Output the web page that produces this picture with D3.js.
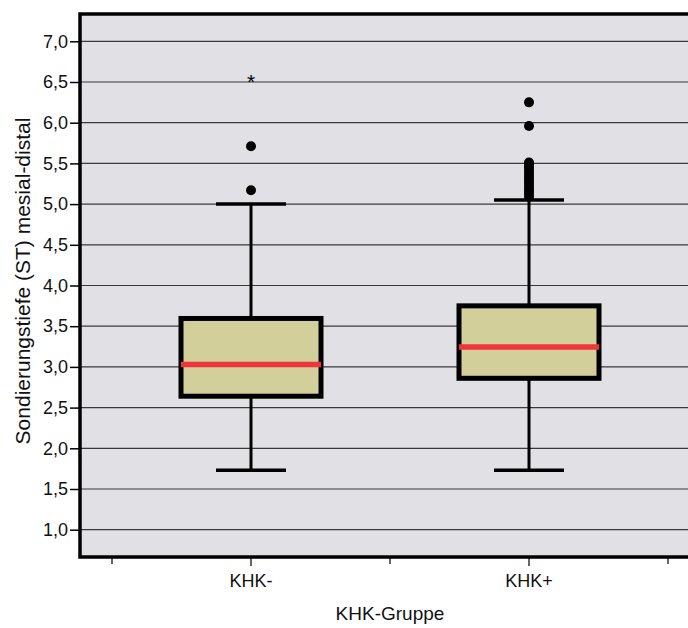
<!DOCTYPE html>
<html>
<head>
<meta charset="utf-8">
<script src="https://cdn.jsdelivr.net/npm/d3@7/dist/d3.min.js"></script>
<style>
  html, body { margin: 0; padding: 0; background: #fff; }
  svg { display: block; font-family: "Liberation Sans", Arial, sans-serif; }
</style>
</head>
<body>
<svg id="chart" width="688" height="628"></svg>
<script>
// Groups and five-number summaries (probing depth, mm)
const groups = ["KHK-", "KHK+"];
const q1 = [2.64, 2.86];
const medians = [3.03, 3.245];
const q3 = [3.595, 3.75];
const whiskerLow = [1.73, 1.73];
const whiskerHigh = [5.0, 5.05];

// Outliers (circles) and extreme values (asterisks) per group
const outliersMinus = [5.17, 5.71];
const outliersPlus = [5.09, 5.13, 5.17, 5.21, 5.25, 5.29, 5.33, 5.37, 5.41, 5.45, 5.48, 5.51, 5.96, 6.25];
const extremesMinus = [6.54];
const extremesPlus = [];

const yTicks = [1.0, 1.5, 2.0, 2.5, 3.0, 3.5, 4.0, 4.5, 5.0, 5.5, 6.0, 6.5, 7.0];

const svg = d3.select("#chart");
const plotLeft = 80, plotTop = 14, plotBottom = 557, plotRight = 700;

const y = d3.scaleLinear().domain([1.0, 7.0]).range([529.7, 41.3]);
const x = d3.scaleBand().domain(groups).range([112, 668]).padding(0);
const cx = g => x(g) + x.bandwidth() / 2;

// plot background
svg.append("rect")
  .attr("x", plotLeft).attr("y", plotTop)
  .attr("width", plotRight - plotLeft).attr("height", plotBottom - plotTop)
  .attr("fill", "#e1e0e5");

// horizontal grid lines
svg.append("g").selectAll("line").data(yTicks).join("line")
  .attr("x1", plotLeft).attr("x2", plotRight)
  .attr("y1", d => y(d)).attr("y2", d => y(d))
  .attr("stroke", "#3a3a3a").attr("stroke-width", 1.2);

// y axis
const yAxis = d3.axisLeft(y).tickValues(yTicks)
  .tickFormat(d => d3.format(".1f")(d).replace(".", ","))
  .tickSize(10).tickPadding(2).tickSizeOuter(0);
const gy = svg.append("g").attr("transform", `translate(${plotLeft},0)`).call(yAxis);
gy.select(".domain").remove();
gy.selectAll(".tick line").attr("stroke", "#000").attr("stroke-width", 1.5);
gy.selectAll(".tick text").attr("font-size", 18).attr("fill", "#111")
  .attr("font-family", "Liberation Sans, Arial, sans-serif");

// x axis: labels at group centres, small ticks at band edges
const edgeTicks = [112, 390, 668];
svg.append("g").selectAll("line").data(edgeTicks).join("line")
  .attr("x1", d => d).attr("x2", d => d)
  .attr("y1", plotBottom).attr("y2", plotBottom + 7)
  .attr("stroke", "#000").attr("stroke-width", 1.2);
svg.append("g").selectAll("line").data(groups).join("line")
  .attr("x1", d => cx(d)).attr("x2", d => cx(d))
  .attr("y1", plotBottom).attr("y2", plotBottom + 9)
  .attr("stroke", "#000").attr("stroke-width", 1.2);
svg.append("g").selectAll("text").data(groups).join("text")
  .attr("x", d => cx(d)).attr("y", 587)
  .attr("text-anchor", "middle").attr("font-size", 18).attr("fill", "#111")
  .text(d => d);

// boxes
const boxHalf = 70, capHalf = 35;
groups.forEach((g, i) => {
  const c = cx(g);
  const gg = svg.append("g");
  // whisker stems
  gg.append("line").attr("x1", c).attr("x2", c)
    .attr("y1", y(q3[i])).attr("y2", y(whiskerHigh[i]))
    .attr("stroke", "#000").attr("stroke-width", 3);
  gg.append("line").attr("x1", c).attr("x2", c)
    .attr("y1", y(q1[i])).attr("y2", y(whiskerLow[i]))
    .attr("stroke", "#000").attr("stroke-width", 3);
  // caps
  [whiskerHigh[i], whiskerLow[i]].forEach(v => {
    gg.append("line").attr("x1", c - capHalf).attr("x2", c + capHalf)
      .attr("y1", y(v)).attr("y2", y(v))
      .attr("stroke", "#000").attr("stroke-width", 3.5);
  });
  // box
  gg.append("rect")
    .attr("x", c - boxHalf).attr("y", y(q3[i]))
    .attr("width", boxHalf * 2).attr("height", y(q1[i]) - y(q3[i]))
    .attr("fill", "#d3cf9a").attr("stroke", "#000").attr("stroke-width", 5);
  // median
  gg.append("line").attr("x1", c - boxHalf).attr("x2", c + boxHalf)
    .attr("y1", y(medians[i])).attr("y2", y(medians[i]))
    .attr("stroke", "#ee353d").attr("stroke-width", 5.5);
});

// outliers
const outliers = [outliersMinus, outliersPlus];
const extremes = [extremesMinus, extremesPlus];
groups.forEach((g, i) => {
  svg.append("g").selectAll("circle").data(outliers[i]).join("circle")
    .attr("cx", cx(g)).attr("cy", d => y(d)).attr("r", 5)
    .attr("fill", "#000");
  svg.append("g").selectAll("text").data(extremes[i]).join("text")
    .attr("x", cx(g)).attr("y", d => y(d) + 10)
    .attr("text-anchor", "middle").attr("font-size", 21).attr("fill", "#000")
    .text("*");
});

// frame
svg.append("rect")
  .attr("x", plotLeft).attr("y", plotTop)
  .attr("width", plotRight - plotLeft).attr("height", plotBottom - plotTop)
  .attr("fill", "none").attr("stroke", "#000").attr("stroke-width", 3.5);

// axis titles
svg.append("text")
  .attr("x", 390).attr("y", 620)
  .attr("text-anchor", "middle").attr("font-size", 19).attr("fill", "#111")
  .text("KHK-Gruppe");
svg.append("text")
  .attr("transform", "translate(30,281) rotate(-90)")
  .attr("text-anchor", "middle").attr("font-size", 21).attr("fill", "#111")
  .text("Sondierungstiefe (ST) mesial-distal");
</script>
</body>
</html>
